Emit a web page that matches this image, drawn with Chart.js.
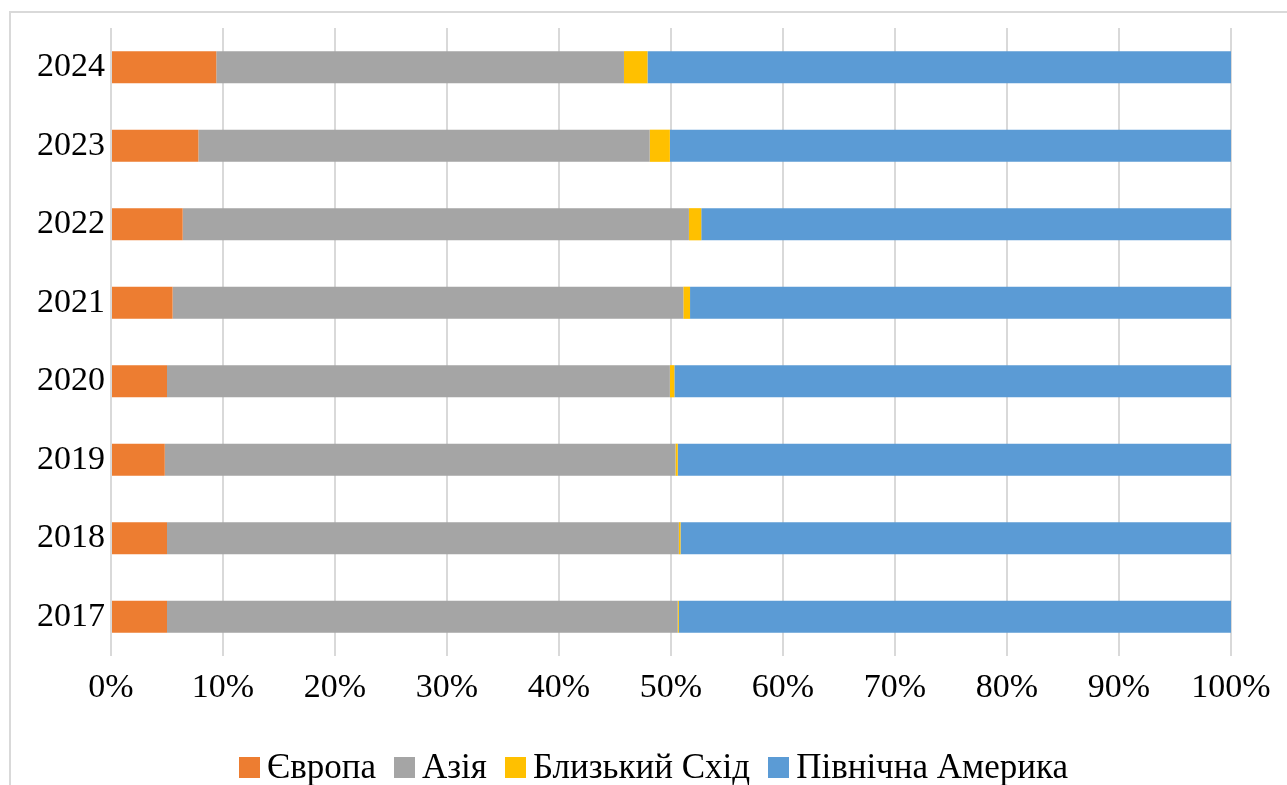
<!DOCTYPE html>
<html>
<head>
<meta charset="utf-8">
<script src="https://cdn.jsdelivr.net/npm/chart.js@4/dist/chart.umd.min.js"></script>
<style>
  html, body { margin: 0; padding: 0; background: #fff; overflow: hidden; }
  #wrap { position: relative; width: 1287px; height: 785px; }
  #frame { position: absolute; left: 9px; top: 11px; width: 1400px; height: 900px;
           border: 2px solid #d9d9d9; box-sizing: border-box; }
  #c { position: absolute; left: 0; top: 0; }
  #legend { position: absolute; left: 10px; top: 745px; width: 1287px; height: 44px;
            display: flex; justify-content: center; align-items: center;
            font-family: 'Liberation Serif', 'Times New Roman', serif; font-size: 35px; color: #000; }
  #legend span.item { display: inline-flex; align-items: center; margin: 0 9px; }
  #legend span.box { display: inline-block; width: 21px; height: 21px; margin-right: 7px; }
</style>
</head>
<body>
<div id="wrap">
  <div id="frame"></div>
  <canvas id="c" width="1287" height="785"></canvas>
  <div id="legend"></div>
</div>
<script>
// частки регіонів, %
const years = ['2017', '2018', '2019', '2020', '2021', '2022', '2023', '2024'];
const europe = [5.0, 5.0, 4.8, 5.0, 5.5, 6.4, 7.8, 9.4];
const asia = [45.6, 45.7, 45.6, 44.9, 45.6, 45.2, 40.3, 36.4];
const middleEast = [0.1, 0.15, 0.2, 0.4, 0.6, 1.1, 1.8, 2.1];
const northAmerica = [49.3, 49.15, 49.4, 49.7, 48.3, 47.3, 50.1, 52.1];
const xTicks = [0, 10, 20, 30, 40, 50, 60, 70, 80, 90, 100];

const seriesNames = ['Європа', 'Азія', 'Близький Схід', 'Північна Америка'];
const seriesColors = ['#ED7D31', '#A5A5A5', '#FFC000', '#5B9BD5'];
const seriesData = [europe, asia, middleEast, northAmerica];

const font = { family: "'Liberation Serif', 'Times New Roman', serif", size: 34 };

const datasets = seriesNames.map((name, i) => ({
  label: name,
  data: seriesData[i],
  backgroundColor: seriesColors[i],
  borderWidth: 0,
  barPercentage: 0.41,
  categoryPercentage: 1.0
}));

new Chart(document.getElementById('c'), {
  type: 'bar',
  data: { labels: years, datasets },
  options: {
    indexAxis: 'y',
    responsive: false,
    animation: false,
    layout: { padding: { top: 28, right: 56, bottom: 60, left: 0 } },
    plugins: { legend: { display: false }, tooltip: { enabled: false } },
    scales: {
      x: {
        stacked: true,
        min: 0,
        max: 100,
        afterBuildTicks: (axis) => { axis.ticks = xTicks.map(v => ({ value: v })); },
        ticks: { font, color: '#000', padding: 12, maxRotation: 0, callback: v => v + '%' },
        grid: { color: '#d9d9d9', lineWidth: 2, drawTicks: false },
        border: { display: false },
        afterFit: (axis) => { axis.height = 69; }
      },
      y: {
        stacked: true,
        reverse: true,
        ticks: { font, color: '#000', padding: 6 },
        grid: { display: false, drawTicks: false },
        border: { display: false },
        afterFit: (axis) => { axis.width = 111; }
      }
    }
  }
});

// легенда під діаграмою
const legend = document.getElementById('legend');
seriesNames.forEach((name, i) => {
  const item = document.createElement('span');
  item.className = 'item';
  const box = document.createElement('span');
  box.className = 'box';
  box.style.background = seriesColors[i];
  item.appendChild(box);
  item.appendChild(document.createTextNode(name));
  legend.appendChild(item);
});
</script>
</body>
</html>
